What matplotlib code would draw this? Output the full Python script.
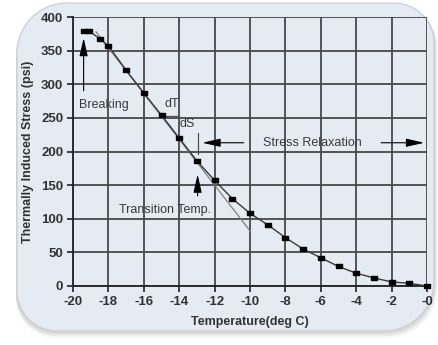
import numpy as np
import matplotlib.pyplot as plt
from matplotlib.path import Path
from matplotlib.patches import PathPatch

# measured stress curve
temps = [-19.4, -19.1, -18.5, -18, -17, -16, -15, -14, -13, -12, -11, -10,
         -9, -8, -7, -6, -5, -4, -3, -2, -1, 0]
stress = [379, 379, 368, 357, 321, 287, 254, 220, 186, 157, 130, 108,
          91, 72, 55, 42, 29, 19, 12, 6, 4, 0]

# tangent line at the steep part
tangent_t = [-18.7, -10]
tangent_s = [378, 82]

xticks = [-20, -18, -16, -14, -12, -10, -8, -6, -4, -2, 0]
xticklabels = ["-20", "-18", "-16", "-14", "-12", "-10", "-8", "-6", "-4", "-2", "-0"]
yticks = [0, 50, 100, 150, 200, 250, 300, 350, 400]

W, H = 438, 345
plt.rcParams['font.family'] = ['Liberation Sans', 'DejaVu Sans']
fig = plt.figure(figsize=(W / 100, H / 100), dpi=100)
fig.patch.set_facecolor('white')


def rounded_rect(x0, y0, x1, y1, r_tl, r_tr, r_br, r_bl):
    # pixel coords, y measured from top
    pts = []
    def arc(cx, cy, r, a0, a1):
        for a in np.linspace(a0, a1, 20):
            pts.append((cx + r * np.cos(a), cy + r * np.sin(a)))
    arc(x0 + r_tl, y0 + r_tl, r_tl, np.pi, 1.5 * np.pi)
    arc(x1 - r_tr, y0 + r_tr, r_tr, 1.5 * np.pi, 2 * np.pi)
    arc(x1 - r_br, y1 - r_br, r_br, 0, 0.5 * np.pi)
    arc(x0 + r_bl, y1 - r_bl, r_bl, 0.5 * np.pi, np.pi)
    pts = np.array(pts)
    pts = np.column_stack([pts[:, 0] / W, 1 - pts[:, 1] / H])
    return Path(np.vstack([pts, pts[:1]]), closed=True)


# soft shadow
for k, a in [(7, 0.05), (5, 0.08), (3, 0.12)]:
    fig.patches.append(PathPatch(rounded_rect(17 - 1, 3 + k / 2, 434 + k / 2, 331 + k, 50, 40, 50, 40),
                                 transform=fig.transFigure, facecolor='#606060',
                                 edgecolor='none', alpha=a, zorder=-3))
fig.patches.append(PathPatch(rounded_rect(17, 3, 434, 331, 50, 40, 50, 40),
                             transform=fig.transFigure, facecolor='#e5ebf3',
                             edgecolor='#c8ccd2', linewidth=0.8, zorder=-2))

ax = fig.add_axes([73 / W, 59 / H, 354 / W, 269 / H])
ax.set_zorder(1)
ax.set_facecolor('none')
ax.set_xlim(-20, 0)
ax.set_ylim(0, 400)
ax.set_xticks(xticks)
ax.set_xticklabels(xticklabels)
ax.set_yticks(yticks)
ax.grid(True, color='#484848', linewidth=1.3)
ax.set_axisbelow(True)
for side in ['top', 'right']:
    ax.spines[side].set_visible(False)
for side in ['left', 'bottom']:
    ax.spines[side].set_color('#222222')
    ax.spines[side].set_linewidth(1.3)
ax.tick_params(direction='out', length=4, width=1.2, color='#222222',
               labelsize=9.5, labelcolor='#333333', pad=3)
for lab in ax.get_xticklabels() + ax.get_yticklabels():
    lab.set_fontweight('bold')

ax.set_xlabel("Temperature(deg C)", fontsize=9, fontweight='bold', color='#333333', labelpad=6)
ax.set_ylabel("Thermally Induced Stress (psi)", fontsize=9, fontweight='bold', color='#333333', labelpad=5)

rect_marker = [(-1.6, -1), (1.6, -1), (1.6, 1), (-1.6, 1), (-1.6, -1)]
ax.plot(tangent_t, tangent_s, color='#808080', linewidth=0.9, zorder=3)
ax.plot(temps, stress, color='#3a3a3a', linewidth=1.0, marker=rect_marker,
        markersize=4.6, markerfacecolor='black', markeredgecolor='black', zorder=4,
        clip_on=False)

txt = dict(fontsize=9, color='#3a3a3a')
arr = dict(arrowstyle='-|>,head_length=1.1,head_width=0.25', color='black', linewidth=0.8)

# Breaking
ax.text(-19.66, 269, "Breaking", ha='left', va='center', **txt)
ax.annotate("", xy=(-19.4, 373), xytext=(-19.4, 286), arrowprops=arr)

# dT / dS
ax.text(-14.4, 271, "dT", ha='center', va='center', **txt)
ax.text(-13.55, 241, "dS", ha='center', va='center', **txt)
ax.plot([-15, -14], [253, 253], color='#555555', linewidth=1.0, zorder=3)

# Stress Relaxation
ax.plot([-12.93, -12.93], [196, 228], color='#444444', linewidth=0.8)
ax.annotate("", xy=(-12.85, 213), xytext=(-10.2, 213), arrowprops=arr)
ax.text(-6.5, 213, "Stress Relaxation", ha='center', va='center', **txt)
ax.annotate("", xy=(0, 213), xytext=(-2.75, 213), arrowprops=arr)

# Transition temperature
ax.text(-14.8, 113, "Transition Temp.", ha='center', va='center', **txt)
ax.annotate("", xy=(-12.96, 170), xytext=(-12.96, 130), arrowprops=arr)

fig.savefig("out.png", dpi=100)
